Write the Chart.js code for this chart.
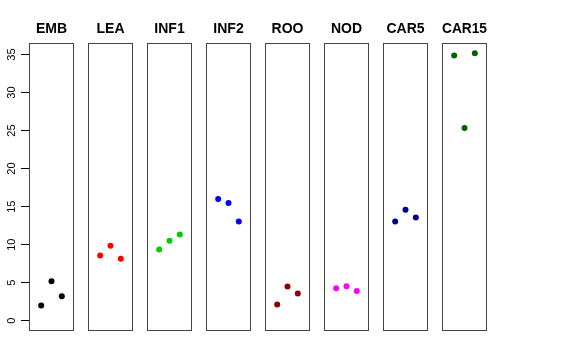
<!DOCTYPE html>
<html>
<head>
<meta charset="utf-8">
<script src="https://cdn.jsdelivr.net/npm/chart.js@4"></script>
<style>
  body { margin: 0; background: #fff; }
  #wrap { position: relative; width: 576px; height: 360px; }
  #wrap canvas { position: absolute; top: 0; }
</style>
</head>
<body>
<div id="wrap"></div>
<script>
// panel names and colours
const groups = ["EMB", "LEA", "INF1", "INF2", "ROO", "NOD", "CAR5", "CAR15"];
const colors = ["#000000", "#FF0000", "#00CD00", "#0000FF", "#8B0000", "#FF00FF", "#000080", "#006400"];

// x position of the 3 replicates inside each panel
const xPos = [1, 2, 3];

// values
const EMB = [1.98, 5.19, 3.21];
const LEA = [8.56, 9.84, 8.13];
const INF1 = [9.35, 10.5, 11.33];
const INF2 = [16.0, 15.47, 13.04];
const ROO = [2.11, 4.48, 3.56];
const NOD = [4.27, 4.53, 3.91];
const CAR5 = [13.04, 14.58, 13.57];
const CAR15 = [34.87, 25.35, 35.18];
const series = [EMB, LEA, INF1, INF2, ROO, NOD, CAR5, CAR15];

const yTicks = [0, 5, 10, 15, 20, 25, 30, 35];

const panelLeft = [29, 88, 147, 206, 265, 324, 383, 442];
const panelWidth = 45;
const axisWidth = 29;

// marco alrededor de cada panel
const framePlugin = {
    id: "frame",
    beforeDatasetsDraw(chart) {
        const a = chart.chartArea;
        const ctx = chart.ctx;
        ctx.save();
        ctx.strokeStyle = "#444";
        ctx.lineWidth = 1;
        ctx.strokeRect(Math.round(a.left) + 0.5, Math.round(a.top) + 0.5,
            Math.round(a.right - a.left) - 1, Math.round(a.bottom - a.top) - 1);
        ctx.restore();
    }
};

const wrap = document.getElementById("wrap");

groups.forEach((name, i) => {
    const first = i === 0;
    const canvas = document.createElement("canvas");
    const left = first ? 0 : panelLeft[i] - 2;
    const w = first ? axisWidth + panelWidth + 2 : panelWidth + 4;
    canvas.width = w;
    canvas.height = 360;
    canvas.style.left = left + "px";
    canvas.style.width = w + "px";
    canvas.style.height = "360px";
    wrap.appendChild(canvas);

    new Chart(canvas, {
        type: "scatter",
        data: {
            datasets: [{
                data: xPos.map((x, k) => ({ x: x, y: series[i][k] })),
                backgroundColor: colors[i],
                borderWidth: 0,
                pointRadius: 3,
                pointHoverRadius: 3,
                clip: false,
            }],
        },
        plugins: [framePlugin],
        options: {
            responsive: false,
            animation: false,
            devicePixelRatio: 1,
            layout: {
                autoPadding: false,
                padding: { left: first ? 0 : 2, right: 2, top: 0, bottom: 29 },
            },
            scales: {
                x: {
                    type: "linear",
                    min: -0.18,
                    max: 4.18,
                    display: false,
                },
                y: {
                    type: "linear",
                    min: -1.36,
                    max: 36.55,
                    display: first,
                    afterBuildTicks: (scale) => {
                        scale.ticks = yTicks.map((v) => ({ value: v }));
                    },
                    afterFit: (scale) => {
                        if (first) scale.width = axisWidth;
                    },
                    border: { display: false },
                    grid: {
                        drawOnChartArea: false,
                        drawTicks: true,
                        tickLength: 8,
                        color: "#000",
                    },
                    ticks: {
                        color: "#000",
                        padding: 3,
                        minRotation: 90,
                        maxRotation: 90,
                        crossAlign: "center",
                        font: { family: "Liberation Sans, Arial, sans-serif", size: 11 },
                    },
                },
            },
            plugins: {
                legend: { display: false },
                tooltip: { enabled: false },
                title: {
                    display: true,
                    text: name,
                    fullSize: false,
                    color: "#000",
                    padding: { top: 21, bottom: 5 },
                    font: { family: "Liberation Sans, Arial, sans-serif", size: 14, weight: "bold" },
                },
            },
        },
    });
});
</script>
</body>
</html>
